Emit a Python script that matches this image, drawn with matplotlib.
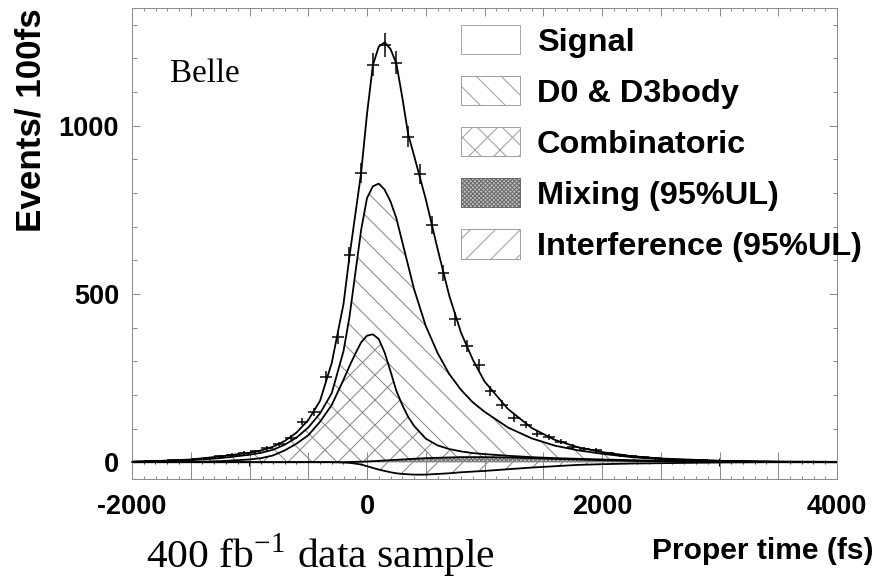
import numpy as np
import matplotlib.pyplot as plt
from matplotlib import font_manager
from matplotlib.patches import Patch
from matplotlib.ticker import MultipleLocator, FuncFormatter

# fit curves (stacked levels)
t_fit = [-2000, -1750, -1500, -1250, -1000, -900, -800, -700, -600, -500,
         -400, -300, -200, -150, -100, -50, 0, 50, 100, 150,
         200, 250, 300, 350, 400, 500, 600, 700, 800, 900,
         1000, 1200, 1400, 1600, 1800, 2000, 2250, 2500, 3000, 3500, 4000]
fit_total = [2, 4, 8, 17, 28, 35, 46, 63, 88, 125,
             182, 295, 470, 610, 735, 860, 1035, 1180, 1235, 1248,
             1228, 1185, 1085, 975, 912, 782, 635, 495, 385, 305,
             240, 158, 102, 66, 44, 30, 18, 11, 4, 2, 1]
fit_d0 = [1, 3, 6, 12, 22, 28, 37, 52, 73, 103,
          145, 205, 330, 430, 560, 690, 785, 820, 828, 810,
          775, 725, 655, 585, 515, 405, 325, 262, 215, 178,
          150, 103, 71, 49, 35, 25, 15, 9, 4, 1, 0]
fit_comb = [0, 0.5, 1, 3, 8, 12, 20, 35, 55, 80,
            120, 170, 245, 285, 322, 356, 376, 380, 366, 326,
            270, 212, 170, 135, 108, 70, 50, 39, 32, 27,
            24, 19, 15, 12, 10, 8, 6, 4, 2, 0.5, 0]
fit_mix = [0, 0, 0, 0, 0, 0, 0, 0, 0, 0,
           0, 0, 0, 0.5, 1, 1.5, 2, 3, 4, 5,
           6, 7, 8, 9, 10, 12, 13, 14, 15, 15,
           15, 14, 12, 10, 8, 6, 4, 3, 1, 0, 0]
fit_interf = [0, 0, 0, 0, 0, 0, 0, 0, 0, 0,
              0, 0, -1, -2, -4, -7, -12, -17, -22, -26,
              -30, -33, -35, -36, -37, -37, -35, -33, -30, -28,
              -26, -21, -16, -12, -8, -6, -4, -3, -1, 0, 0]

# data, 100 fs bins
bin_center = np.arange(-1950, 4000, 100)
counts = [2, 3, 4, 5, 7, 9, 13, 18, 22, 27,
          32, 41, 54, 73, 120, 150, 254, 372, 616, 860,
          1182, 1240, 1187, 968, 856, 705, 562, 425, 345, 289,
          211, 171, 132, 111, 85, 75, 61, 46, 40, 37,
          26, 21, 17, 14, 11, 9, 7, 6, 5, 4,
          3, 3, 2, 2, 1, 1, 1, 1, 1, 0]

legend_labels = ['Signal', 'D0 & D3body', 'Combinatoric',
                 'Mixing (95%UL)', 'Interference (95%UL)']

DPI = 75
PX = 72.0 / DPI   # points per pixel

plt.rcParams['font.family'] = ['Liberation Sans', 'DejaVu Sans']
plt.rcParams['font.weight'] = 'bold'
plt.rcParams['mathtext.fontset'] = 'stix'
plt.rcParams['hatch.linewidth'] = 1.0

names = {f.name for f in font_manager.fontManager.ttflist}
if 'Liberation Sans Narrow' in names:
    tick_family, tick_size = 'Liberation Sans Narrow', 30 * PX
else:
    tick_family, tick_size = 'Liberation Sans', 27 * PX

fig = plt.figure(figsize=(886 / DPI, 581 / DPI), dpi=DPI)
ax = fig.add_axes([132 / 886, 1 - 479 / 581, 705 / 886, 471 / 581])

hatch_grey = '#8a8a8a'
ax.fill_between(t_fit, 0, fit_interf, facecolor='white', edgecolor=hatch_grey,
                hatch='/', linewidth=0)
ax.fill_between(t_fit, 0, fit_mix, facecolor='#c4c4c4', edgecolor='#6a6a6a',
                hatch='xxxxxx', linewidth=0)
ax.fill_between(t_fit, fit_mix, fit_comb, facecolor='white', edgecolor=hatch_grey,
                hatch='x', linewidth=0)
ax.fill_between(t_fit, fit_comb, fit_d0, facecolor='white', edgecolor=hatch_grey,
                hatch='\\', linewidth=0)

for curve in (fit_total, fit_d0, fit_comb, fit_mix, fit_interf):
    ax.plot(t_fit, curve, color='black', lw=1.8 * PX)

ax.errorbar(bin_center, counts, xerr=50, yerr=np.sqrt(counts), fmt='none',
            ecolor='black', elinewidth=1.5 * PX, capsize=0, zorder=5)

ax.set_xlim(-2000, 4000)
ax.set_ylim(-50, 1350)

spine_grey = '#8c8c8c'
for sp in ax.spines.values():
    sp.set_color(spine_grey)
    sp.set_linewidth(1.0 * PX)

ax.xaxis.set_major_locator(MultipleLocator(500))
ax.xaxis.set_minor_locator(MultipleLocator(100))
ax.xaxis.set_major_formatter(FuncFormatter(lambda v, p: f'{v:.0f}' if v % 2000 == 0 else ''))
ax.yaxis.set_major_locator(MultipleLocator(500))
ax.yaxis.set_minor_locator(MultipleLocator(100))

ax.tick_params(which='both', direction='in', top=True, right=True,
               color=spine_grey, width=1.0 * PX)
ax.tick_params(axis='x', which='major', length=5 * PX, pad=15 * PX)
ax.tick_params(axis='x', which='minor', length=3 * PX)
ax.tick_params(axis='y', which='major', length=8 * PX, pad=13 * PX)
ax.tick_params(axis='y', which='minor', length=4.5 * PX)

for tick in ax.xaxis.get_major_ticks():
    if tick.get_loc() % 2000 == 0:
        tick.tick1line.set_markersize(27 * PX)
        tick.tick2line.set_markersize(8 * PX)

for lab in ax.get_xticklabels() + ax.get_yticklabels():
    lab.set_fontfamily([tick_family, 'Liberation Sans', 'DejaVu Sans'])
    lab.set_fontsize(tick_size)
    lab.set_fontweight('bold')

# zero axis with its own ticks
zax = ax.secondary_xaxis(location=50 / 1400)
zax.spines['bottom'].set_color('black')
zax.spines['bottom'].set_linewidth(1.6 * PX)
zax.xaxis.set_major_locator(MultipleLocator(500))
zax.xaxis.set_minor_locator(MultipleLocator(100))
zax.tick_params(which='major', direction='inout', length=8 * PX, width=1.0 * PX,
                color='black', labelbottom=False)
zax.tick_params(which='minor', direction='inout', length=4 * PX, width=0.8 * PX,
                color='black')

# legend
handles = [
    Patch(facecolor='white', edgecolor='#a8a8a8', linewidth=1.0 * PX),
    Patch(facecolor='white', edgecolor='#a0a0a0', hatch='\\', linewidth=1.0 * PX),
    Patch(facecolor='white', edgecolor='#a0a0a0', hatch='x', linewidth=1.0 * PX),
    Patch(facecolor='#c4c4c4', edgecolor='#6a6a6a', hatch='xxxxxx', linewidth=1.0 * PX),
    Patch(facecolor='white', edgecolor='#a0a0a0', hatch='/', linewidth=1.0 * PX),
]
fs = 32.5
ax.legend(handles, legend_labels, loc='upper left',
          bbox_to_anchor=(461 / 886, 1 - 25 / 581), bbox_transform=fig.transFigure,
          frameon=False, borderpad=0, borderaxespad=0,
          handlelength=59 / fs, handleheight=33 / fs, handletextpad=17 / fs,
          labelspacing=0.56, prop={'size': fs * PX, 'weight': 'bold'})

# texts
fig.text(170 / 886, 1 - 82 / 581, 'Belle', family='Liberation Serif',
         weight='normal', fontsize=33 * PX, va='baseline')
fig.text(31 / 886, 1 - 120 / 581, 'Events/ 100fs', rotation=90,
         ha='center', va='center', fontsize=35 * PX, weight='bold')
fig.text(874 / 886, 1 - 559 / 581, 'Proper time (fs)', ha='right',
         va='baseline', fontsize=30 * PX, weight='bold')
fig.text(146 / 886, 1 - 568 / 581, r'400 fb$^{\mathregular{-1}}$ data sample',
         family='Liberation Serif', weight='normal', fontsize=41.5 * PX,
         va='baseline')

fig.savefig('out.png', dpi=DPI)
